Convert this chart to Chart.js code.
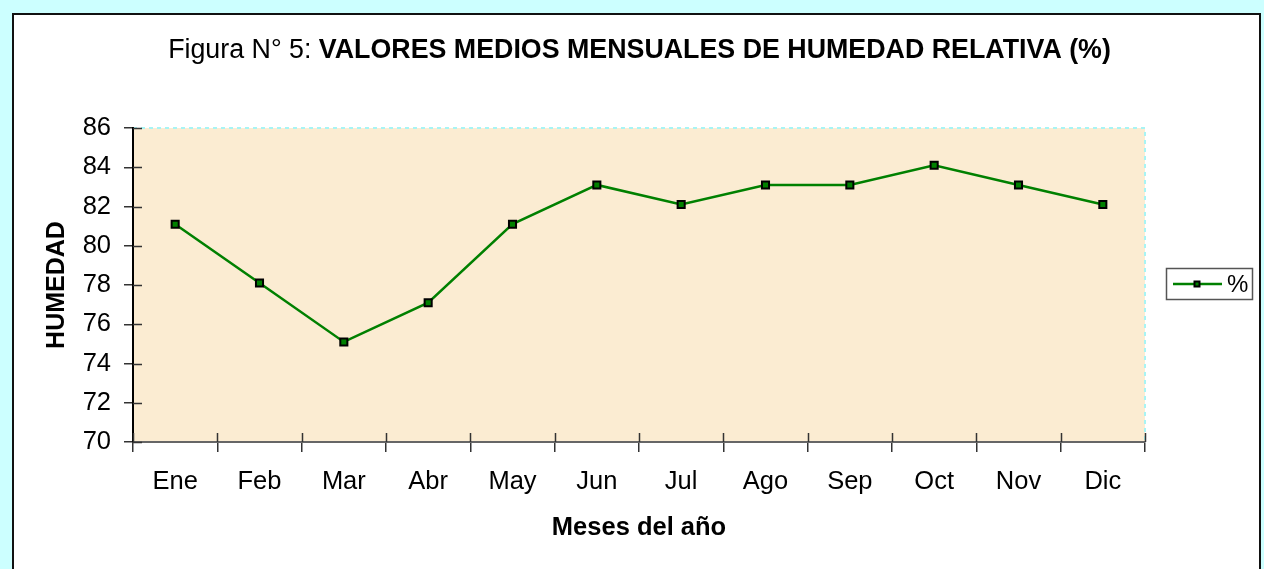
<!DOCTYPE html>
<html>
<head>
<meta charset="utf-8">
<script src="https://cdn.jsdelivr.net/npm/chart.js@4/dist/chart.umd.min.js"></script>
<style>
  html, body { margin: 0; padding: 0; background: #ccffff; }
  #wrap { position: absolute; left: 0; top: 0; width: 1264px; height: 569px; }
</style>
</head>
<body>
<div id="wrap"><canvas id="c" width="1264" height="569"></canvas></div>
<script>
const months = ['Ene', 'Feb', 'Mar', 'Abr', 'May', 'Jun', 'Jul', 'Ago', 'Sep', 'Oct', 'Nov', 'Dic'];
const humidity = [81.1, 78.1, 75.1, 77.1, 81.1, 83.1, 82.1, 83.1, 83.1, 84.1, 83.1, 82.1];
const seriesName = '%';
const titlePlain = 'Figura N° 5: ';
const titleBold = 'VALORES MEDIOS MENSUALES DE HUMEDAD RELATIVA (%)';
const yTitle = 'HUMEDAD';
const xTitle = 'Meses del año';
const yMin = 70, yMax = 86, yStep = 2;

const FONT = '"Liberation Sans", Arial, sans-serif';
const GREEN = '#008000';

const decor = {
  id: 'decor',
  beforeDraw(chart) {
    const ctx = chart.ctx;
    const a = chart.chartArea;
    ctx.save();
    ctx.fillStyle = '#ccffff';
    ctx.fillRect(0, 0, chart.width, chart.height);
    ctx.fillStyle = '#ffffff';
    ctx.fillRect(13, 14, 1247, 570);
    ctx.strokeStyle = '#111111';
    ctx.lineWidth = 2;
    ctx.strokeRect(13, 14, 1247, 570);
    // plot background
    ctx.fillStyle = '#fbecd2';
    ctx.fillRect(a.left, a.top, a.right - a.left, a.bottom - a.top);
    // dotted cyan frame
    ctx.strokeStyle = '#a8f4f4';
    ctx.lineWidth = 2;
    ctx.setLineDash([4, 4]);
    ctx.strokeRect(a.left, a.top, a.right - a.left, a.bottom - a.top);
    ctx.setLineDash([]);
    ctx.restore();
  },
  afterDraw(chart) {
    const ctx = chart.ctx;
    const a = chart.chartArea;
    const ys = chart.scales.y;
    ctx.save();
    // inner part of crossing tick marks
    ctx.strokeStyle = '#333333';
    ctx.lineWidth = 1.5;
    ctx.beginPath();
    for (let i = 0; i <= months.length; i++) {
      const px = Math.round(a.left + (a.right - a.left) * i / months.length) + 0.5;
      ctx.moveTo(px, a.bottom - 9);
      ctx.lineTo(px, a.bottom);
    }
    for (let v = yMin; v <= yMax; v += yStep) {
      const py = Math.round(ys.getPixelForValue(v)) + 0.5;
      ctx.moveTo(a.left, py);
      ctx.lineTo(a.left + 9, py);
    }
    ctx.stroke();

    // title (mixed weight)
    const size = 26.8;
    ctx.fillStyle = '#000000';
    ctx.textBaseline = 'alphabetic';
    ctx.textAlign = 'left';
    ctx.font = `normal ${size}px ${FONT}`;
    const w1 = ctx.measureText(titlePlain).width;
    ctx.font = `bold ${size}px ${FONT}`;
    const w2 = ctx.measureText(titleBold).width;
    const cx = 639.5;
    const x0 = cx - (w1 + w2) / 2;
    ctx.font = `normal ${size}px ${FONT}`;
    ctx.fillText(titlePlain, x0, 58);
    ctx.font = `bold ${size}px ${FONT}`;
    ctx.fillText(titleBold, x0 + w1, 58);

    // legend
    ctx.fillStyle = '#ffffff';
    ctx.fillRect(1166, 268, 86, 31);
    ctx.strokeStyle = '#555555';
    ctx.lineWidth = 1.5;
    ctx.strokeRect(1166.5, 268.5, 86, 31);
    ctx.strokeStyle = GREEN;
    ctx.lineWidth = 2.5;
    ctx.beginPath();
    ctx.moveTo(1173, 284);
    ctx.lineTo(1222, 284);
    ctx.stroke();
    ctx.fillStyle = '#000000';
    ctx.fillRect(1193.5, 280.5, 7, 7);
    ctx.fillStyle = GREEN;
    ctx.fillRect(1195.5, 282.5, 3, 3);
    ctx.fillStyle = '#000000';
    ctx.font = `normal 24px ${FONT}`;
    ctx.textBaseline = 'middle';
    ctx.fillText(seriesName, 1227, 285);
    ctx.restore();
  }
};

new Chart(document.getElementById('c'), {
  type: 'line',
  data: {
    labels: months,
    datasets: [{
      label: seriesName,
      data: humidity,
      borderColor: GREEN,
      borderWidth: 2.5,
      tension: 0,
      pointStyle: 'rect',
      pointRadius: 5,
      pointHoverRadius: 5,
      pointBackgroundColor: GREEN,
      pointBorderColor: '#000000',
      pointBorderWidth: 2
    }]
  },
  options: {
    responsive: false,
    animation: false,
    events: [],
    layout: { padding: { top: 128, right: 119, left: 42, bottom: 26 } },
    plugins: {
      legend: { display: false },
      title: { display: false },
      tooltip: { enabled: false }
    },
    scales: {
      x: {
        offset: true,
        afterFit(s) { s.height = 101; },
        grid: {
          offset: true,
          drawOnChartArea: false,
          drawTicks: true,
          tickLength: 10,
          color: '#333333',
          lineWidth: 1.5
        },
        border: { display: true, color: '#666666', width: 2 },
        ticks: {
          color: '#000000',
          padding: 15,
          maxRotation: 0,
          autoSkip: false,
          font: { family: FONT, size: 25.5 }
        },
        title: {
          display: true,
          text: xTitle,
          color: '#000000',
          padding: { top: 0, bottom: 0 },
          font: { family: FONT, size: 25.5, weight: 'bold' }
        }
      },
      y: {
        min: yMin,
        max: yMax,
        afterFit(s) { s.width = 91; },
        grid: {
          drawOnChartArea: false,
          drawTicks: true,
          tickLength: 9,
          color: '#333333',
          lineWidth: 1.5
        },
        border: { display: true, color: '#000000', width: 2 },
        ticks: {
          stepSize: yStep,
          color: '#000000',
          padding: 13,
          font: { family: FONT, size: 25.5 }
        },
        title: {
          display: true,
          text: yTitle,
          color: '#000000',
          padding: { top: 0, bottom: 0 },
          font: { family: FONT, size: 25, weight: 'bold' }
        }
      }
    }
  },
  plugins: [decor]
});
</script>
</body>
</html>
